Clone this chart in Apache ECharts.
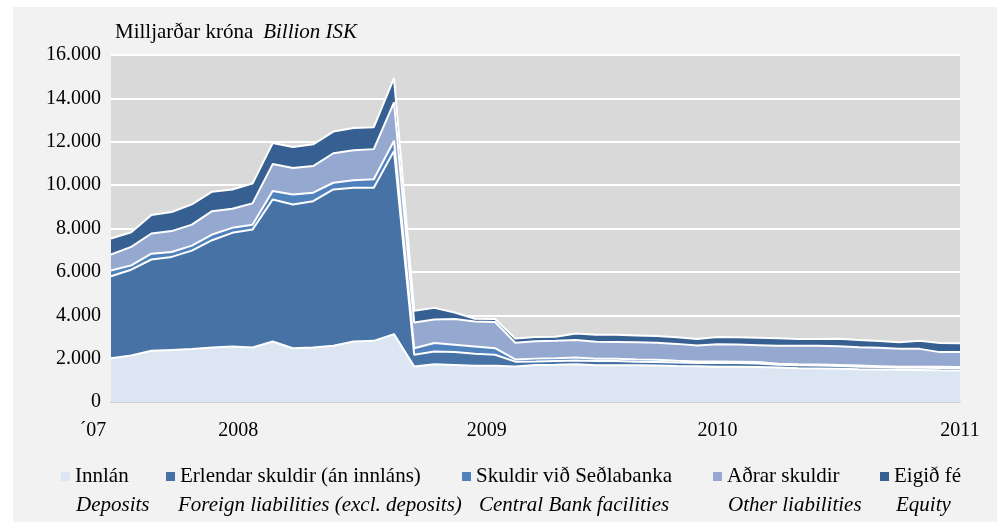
<!DOCTYPE html>
<html lang="is" style="height: 100%">
<head>
  <meta charset="utf-8">
</head>
<body style="height: 100%; margin: 0; background: #fff">
  <div style="position: absolute; left: 13px; top: 7px; width: 984px; height: 515px; background: #f2f2f2"></div>
  <div id="container" style="position: absolute; left: 0; top: 0; width: 1002px; height: 529px"></div>

  <script type="text/javascript" src="https://cdn.jsdelivr.net/npm/echarts@6/dist/echarts.min.js"></script>
  <script type="text/javascript">
    // mánuðir, júlí 2007 - janúar 2011
    const months = [
      '2007-07', '2007-08', '2007-09', '2007-10', '2007-11', '2007-12',
      '2008-01', '2008-02', '2008-03', '2008-04', '2008-05', '2008-06',
      '2008-07', '2008-08', '2008-09', '2008-10', '2008-11', '2008-12',
      '2009-01', '2009-02', '2009-03', '2009-04', '2009-05', '2009-06',
      '2009-07', '2009-08', '2009-09', '2009-10', '2009-11', '2009-12',
      '2010-01', '2010-02', '2010-03', '2010-04', '2010-05', '2010-06',
      '2010-07', '2010-08', '2010-09', '2010-10', '2010-11', '2010-12',
      '2011-01'
    ];
    const tickIndex = [0, 6, 18, 30, 42];
    const tickLabels = ['\u00b407', '2008', '2009', '2010', '2011'];
    // tilfærsla merkja (rich style nafn)
    const tickStyle = ['l', 'r1', 'r2', 'c', 'c'];

    // ma.kr.
    const deposits = [
      2020, 2140, 2360, 2400, 2440, 2510, 2560, 2510, 2790, 2480, 2510, 2590, 2790, 2820, 3130,
      1640, 1740, 1710, 1670, 1670,
      1640, 1710, 1720, 1740, 1700, 1700, 1690, 1680, 1660, 1650, 1630, 1620, 1610, 1590,
      1560, 1550, 1530, 1510, 1500, 1490, 1480, 1460, 1450
    ];
    const foreignLiab = [
      3780, 3960, 4210, 4290, 4540, 4950, 5240, 5440, 6550, 6630, 6750, 7210, 7090, 7060, 8450,
      540, 590, 590, 550, 510,
      220, 160, 170, 170, 190, 190, 170, 170, 160, 150, 170, 180, 170, 130,
      130, 130, 130, 120, 110, 90, 100, 110, 110
    ];
    const centralBank = [
      260, 200, 270, 230, 230, 260, 230, 220, 390, 460, 390, 310, 340, 390, 470,
      300, 390, 340, 340, 300,
      100, 130, 130, 140, 100, 100, 100, 100, 80, 70, 70, 60, 60, 40,
      50, 50, 50, 50, 40, 40, 40, 50, 50
    ];
    const otherLiab = [
      740, 850, 930, 960, 970, 1080, 880, 990, 1240, 1220, 1230, 1360, 1390, 1390, 1770,
      1190, 1080, 1190, 1150, 1210,
      770, 800, 800, 810, 790, 780, 790, 780, 780, 740, 790, 790, 780, 830,
      850, 860, 860, 840, 850, 830, 830, 680, 690
    ];
    const equity = [
      740, 680, 850, 880, 930, 900, 890, 910, 970, 970, 1000, 1000, 1020, 1010, 1110,
      540, 540, 300, 130, 140,
      200, 200, 190, 300, 320, 330, 320, 310, 310, 300, 340, 330, 340, 350,
      320, 320, 350, 340, 310, 310, 370, 420, 410
    ];

    const seriesNames = ['Innlán', 'Erlendar skuldir (án innláns)', 'Skuldir við Seðlabanka', 'Aðrar skuldir', 'Eigið fé'];
    const seriesNamesEn = ['Deposits', 'Foreign liabilities (excl. deposits)', 'Central Bank facilities', 'Other liabilities', 'Equity'];
    const seriesData = [deposits, foreignLiab, centralBank, otherLiab, equity];
    const colors = ['#dce6f2', '#4672a5', '#4f81bd', '#95a9d0', '#376092'];

    // staðsetning skýringa
    const legendLeft = [61, 166, 462, 713, 880];
    const legendEnLeft = [76, 178, 479, 728, 896];

    const FONT = 'Liberation Serif';

    var dom = document.getElementById('container');
    var myChart = echarts.init(dom, null, { renderer: 'canvas' });

    const seriesList = [];
    seriesNames.forEach(function (name, i) {
      seriesList.push({
        name: name,
        type: 'line',
        stack: 'area',
        data: seriesData[i],
        showSymbol: false,
        symbol: 'none',
        lineStyle: { width: 0 },
        areaStyle: { color: colors[i], opacity: 1 },
        itemStyle: { color: colors[i] },
        z: 2,
        silent: true
      });
    });
    // hvítar línur ofan á svæðunum
    seriesNames.forEach(function (name, i) {
      seriesList.push({
        name: name + ' line',
        type: 'line',
        stack: 'lines',
        data: seriesData[i],
        showSymbol: false,
        symbol: 'none',
        lineStyle: { color: '#ffffff', width: 2 },
        z: 3,
        silent: true
      });
    });

    const legends = seriesNames.map(function (name, i) {
      return {
        data: [name],
        left: legendLeft[i],
        top: 466,
        padding: 0,
        icon: 'rect',
        itemWidth: 9,
        itemHeight: 9,
        selectedMode: false,
        textStyle: { fontFamily: FONT, fontSize: 21, color: '#000' }
      };
    });

    const graphics = seriesNamesEn.map(function (txt, i) {
      return {
        type: 'text',
        left: legendEnLeft[i],
        top: 495,
        style: {
          text: txt,
          font: 'italic 21px "Liberation Serif"',
          fill: '#000'
        }
      };
    });

    const labelBase = { fontFamily: FONT, fontSize: 20, color: '#000' };

    var option = {
      animation: false,
      title: {
        text: '{a|Milljarðar króna}  {b|Billion ISK}',
        left: 115,
        top: 22,
        padding: 0,
        textStyle: {
          fontWeight: 'normal',
          rich: {
            a: { fontFamily: FONT, fontSize: 21, fontWeight: 'normal', color: '#000' },
            b: { fontFamily: FONT, fontSize: 21, fontWeight: 'normal', fontStyle: 'italic', color: '#000' }
          }
        }
      },
      legend: legends,
      graphic: graphics,
      grid: {
        left: 111,
        right: 42,
        top: 55,
        bottom: 127,
        show: true,
        backgroundColor: '#d9d9d9',
        borderWidth: 0
      },
      xAxis: {
        type: 'category',
        boundaryGap: false,
        data: months,
        axisLine: { lineStyle: { color: '#bcc2cb', width: 1.5 } },
        axisTick: { show: false },
        splitLine: { show: false },
        axisLabel: {
          interval: function (idx) { return tickIndex.indexOf(idx) >= 0; },
          formatter: function (val, idx) {
            const k = tickIndex.indexOf(idx);
            return k >= 0 ? '{' + tickStyle[k] + '|' + tickLabels[k] + '}' : '';
          },
          fontFamily: FONT,
          fontSize: 20,
          color: '#000',
          margin: 19,
          rich: {
            l: Object.assign({ padding: [0, 36, 0, 0] }, labelBase),
            r1: Object.assign({ padding: [0, 0, 0, 12] }, labelBase),
            r2: Object.assign({ padding: [0, 0, 0, 24] }, labelBase),
            c: labelBase
          }
        }
      },
      yAxis: {
        type: 'value',
        min: 0,
        max: 16000,
        interval: 2000,
        axisLine: { show: false },
        axisTick: { show: false },
        splitLine: { lineStyle: { color: '#ffffff', width: 2 } },
        axisLabel: {
          formatter: function (v) { return v === 0 ? '0' : (v / 1000) + '.000'; },
          fontFamily: FONT,
          fontSize: 20,
          color: '#000',
          margin: 10
        }
      },
      series: seriesList
    };

    myChart.setOption(option);
    window.addEventListener('resize', myChart.resize);
  </script>
</body>
</html>
